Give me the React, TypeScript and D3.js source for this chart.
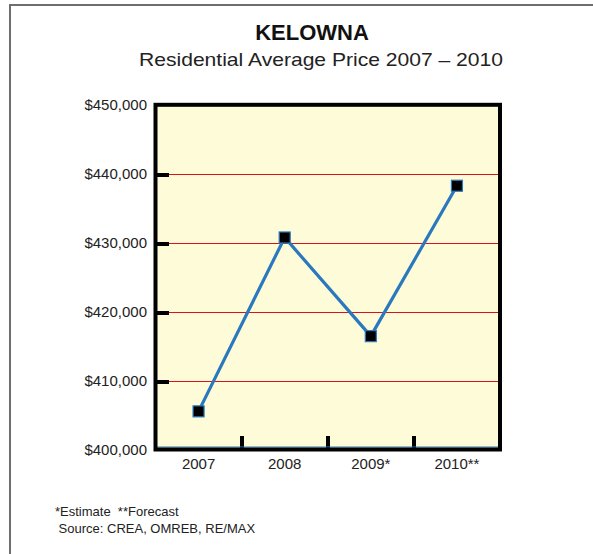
import React from "react";
import * as d3 from "d3";

const years = ["2007", "2008", "2009*", "2010**"];
const prices = [405600, 430800, 416500, 438300];
const yTicks = [400000, 410000, 420000, 430000, 440000, 450000];
const titleText = "KELOWNA";
const subtitleText = "Residential Average Price 2007 \u2013 2010";
const noteLines = ["*Estimate  **Forecast", " Source: CREA, OMREB, RE/MAX"];

const W = 593;
const H = 554;
const left = 155.5;
const right = 500;
const top = 104.8;
const bottom = 449.5;

export default function App() {
  const x = d3.scaleBand<string>().domain(years).range([left, right]).padding(0);
  const y = d3.scaleLinear().domain([400000, 450000]).range([450, 105]);
  const fmt = (v: number) => "$" + d3.format(",")(v);
  const line = d3
    .line<number>()
    .x((_, i) => (x(years[i]) as number) + x.bandwidth() / 2)
    .y((d) => y(d));
  const font = "'Liberation Sans', Arial, Helvetica, sans-serif";
  const lineColor = "#2a79be";
  const inner = yTicks.filter((t) => t > 400000 && t < 450000);

  return (
    <svg
      width={W}
      height={H}
      style={{ position: "absolute", left: 0, top: 0, display: "block" }}
      fontFamily={font}
    >
      <rect x={0} y={0} width={W} height={H} fill="#fff" />
      <rect x={10} y={5} width={W + 40} height={H + 40} fill="#fff" stroke="#6e6e6e" strokeWidth={2} />

      <text x={312} y={39.5} textAnchor="middle" fontSize={22} fontWeight="bold" fill="#111">
        {titleText}
      </text>
      <text
        x={321}
        y={65.5}
        textAnchor="middle"
        fontSize={18.5}
        fill="#222"
        textLength={364}
        lengthAdjust="spacingAndGlyphs"
      >
        {subtitleText}
      </text>

      {/* plot background */}
      <rect x={left} y={top} width={right - left} height={bottom - top} fill="#fefbd8" />

      {/* gridlines */}
      {inner.map((t) => (
        <line
          key={"g" + t}
          x1={left}
          x2={right}
          y1={Math.round(y(t)) + 0.5}
          y2={Math.round(y(t)) + 0.5}
          stroke="#d4161c"
          strokeWidth={1}
          shapeRendering="crispEdges"
        />
      ))}

      {/* y ticks (inward) */}
      {inner.map((t) => (
        <line
          key={"yt" + t}
          x1={left}
          x2={left + 13.5}
          y1={Math.round(y(t)) + 0.5}
          y2={Math.round(y(t)) + 0.5}
          stroke="#000"
          strokeWidth={4}
          shapeRendering="crispEdges"
        />
      ))}

      {/* x ticks (inward) at band boundaries */}
      {years.slice(1).map((yr) => (
        <line
          key={"xt" + yr}
          x1={x(yr) as number}
          x2={x(yr) as number}
          y1={bottom}
          y2={bottom - 14}
          stroke="#000"
          strokeWidth={4}
          shapeRendering="crispEdges"
        />
      ))}

      {/* blue baseline */}
      <line x1={left} x2={right - 2} y1={bottom - 2.5} y2={bottom - 2.5} stroke={lineColor} strokeWidth={1.2} />

      {/* frame */}
      <rect x={left} y={top} width={right - left} height={bottom - top} fill="none" stroke="#000" strokeWidth={4} />

      {/* y labels */}
      {yTicks.map((t) => (
        <text key={"yl" + t} x={147} y={y(t) + 5} textAnchor="end" fontSize={15} fill="#222">
          {fmt(t)}
        </text>
      ))}

      {/* x labels */}
      {years.map((yr) => (
        <text
          key={"xl" + yr}
          x={(x(yr) as number) + x.bandwidth() / 2}
          y={469}
          textAnchor="middle"
          fontSize={15}
          fill="#222"
        >
          {yr}
        </text>
      ))}

      {/* line */}
      <path d={line(prices) || ""} fill="none" stroke={lineColor} strokeWidth={3.2} />

      {/* markers */}
      {prices.map((p, i) => {
        const cx = (x(years[i]) as number) + x.bandwidth() / 2;
        const cy = y(p);
        return (
          <rect key={"m" + i} x={cx - 5.5} y={cy - 5.5} width={11} height={11} fill="#000" stroke={lineColor} strokeWidth={1.2} />
        );
      })}

      {/* notes */}
      {noteLines.map((l, i) => (
        <text key={"n" + i} x={55} y={516 + i * 16.5} fontSize={13} fill="#222" style={{ whiteSpace: "pre" }}>
          {l}
        </text>
      ))}
    </svg>
  );
}
